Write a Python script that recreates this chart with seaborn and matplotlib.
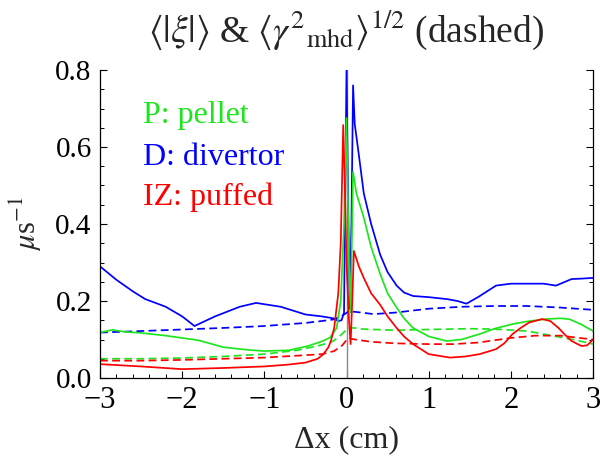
import numpy as np
import pandas as pd
import matplotlib
matplotlib.use("Agg")
import matplotlib.pyplot as plt
import seaborn as sns
from matplotlib.ticker import MultipleLocator

# ---------------- data ----------------
blue_x = [-3, -2.8, -2.6, -2.45, -2.2, -2.0, -1.85, -1.6, -1.3, -1.1, -0.8, -0.5, -0.3,
          -0.16, -0.1, -0.06, -0.03, 0.0, 0.02, 0.04, 0.06, 0.08, 0.1, 0.15, 0.21, 0.3,
          0.41, 0.5, 0.61, 0.7, 0.81, 1.0, 1.22, 1.35, 1.46, 1.6, 1.82, 2.0, 2.22, 2.4,
          2.55, 2.74, 2.85, 3.0]
blue_y = [0.29, 0.255, 0.225, 0.205, 0.185, 0.16, 0.135, 0.16, 0.185, 0.195, 0.185,
          0.165, 0.16, 0.155, 0.148, 0.15, 0.17, 0.80, 0.45, 0.18, 0.40, 0.76, 0.66,
          0.58, 0.48, 0.40, 0.32, 0.275, 0.24, 0.222, 0.213, 0.21, 0.205, 0.20, 0.193,
          0.21, 0.24, 0.245, 0.245, 0.245, 0.24, 0.257, 0.258, 0.26]

green_x = [-3, -2.85, -2.7, -2.5, -2.2, -2.0, -1.8, -1.5, -1.2, -1.0, -0.7, -0.47, -0.3,
           -0.2, -0.12, -0.07, -0.03, 0.0, 0.03, 0.05, 0.08, 0.12, 0.21, 0.3, 0.41, 0.5,
           0.61, 0.7, 0.81, 1.0, 1.22, 1.4, 1.62, 1.8, 2.02, 2.2, 2.42, 2.6, 2.71, 2.85, 3.0]
green_y = [0.118, 0.125, 0.12, 0.117, 0.11, 0.104, 0.098, 0.08, 0.073, 0.07, 0.072,
           0.083, 0.095, 0.105, 0.13, 0.2, 0.4, 0.675, 0.3, 0.17, 0.535, 0.48, 0.417,
           0.34, 0.27, 0.22, 0.183, 0.155, 0.13, 0.108, 0.096, 0.1, 0.114, 0.128, 0.14,
           0.147, 0.153, 0.155, 0.153, 0.14, 0.122]

red_x = [-3, -2.5, -2.0, -1.5, -1.0, -0.7, -0.5, -0.35, -0.28, -0.22, -0.19, -0.15, -0.1,
         -0.07, -0.04, -0.02, 0.0, 0.03, 0.05, 0.07, 0.09, 0.15, 0.21, 0.3, 0.41, 0.5,
         0.61, 0.7, 0.81, 1.0, 1.26, 1.45, 1.62, 1.82, 1.92, 2.02, 2.12, 2.22, 2.38,
         2.48, 2.58, 2.66, 2.74, 2.86, 2.93, 3.0]
red_y = [0.036, 0.03, 0.023, 0.026, 0.03, 0.035, 0.04, 0.05, 0.062, 0.08, 0.096, 0.13,
         0.22, 0.35, 0.657, 0.5, 0.3, 0.15, 0.088, 0.2, 0.33, 0.29, 0.26, 0.22, 0.19,
         0.16, 0.13, 0.108, 0.088, 0.062, 0.053, 0.056, 0.062, 0.075, 0.09, 0.114,
         0.13, 0.144, 0.153, 0.148, 0.13, 0.112, 0.096, 0.083, 0.085, 0.1]

blue_dash_x = [-3, -2.5, -2, -1.5, -1, -0.5, -0.3, -0.16, -0.05, 0.02, 0.1, 0.33, 0.6,
               1.0, 1.4, 1.8, 2.2, 2.6, 3.0]
blue_dash_y = [0.118, 0.122, 0.126, 0.13, 0.135, 0.143, 0.148, 0.152, 0.162, 0.172,
               0.172, 0.166, 0.17, 0.18, 0.185, 0.187, 0.187, 0.183, 0.177]

green_dash_x = [-3, -2.5, -2, -1.5, -1, -0.6, -0.3, -0.16, -0.05, 0.02, 0.1, 0.2, 0.6,
                1.0, 1.5, 1.8, 2.2, 2.5, 2.8, 3.0]
green_dash_y = [0.05, 0.05, 0.052, 0.056, 0.062, 0.072, 0.086, 0.096, 0.115, 0.13,
                0.13, 0.127, 0.124, 0.126, 0.128, 0.127, 0.122, 0.11, 0.098, 0.088]

red_dash_x = [-3, -2.5, -2, -1.5, -1, -0.6, -0.3, -0.15, -0.05, 0.02, 0.1, 0.3, 0.6,
              1.0, 1.3, 1.6, 2.0, 2.3, 2.6, 2.8, 3.0]
red_dash_y = [0.045, 0.045, 0.047, 0.05, 0.053, 0.058, 0.062, 0.07, 0.085, 0.104, 0.1,
              0.094, 0.09, 0.088, 0.088, 0.092, 0.104, 0.11, 0.11, 0.105, 0.1]

labels = ["P: pellet", "D: divertor", "IZ: puffed"]
x_ticks = [-3, -2, -1, 0, 1, 2, 3]
y_ticks = [0.0, 0.2, 0.4, 0.6, 0.8]

GREEN = "#1ee61e"
BLUE = "#0000ff"
RED = "#ff0000"

# ---------------- style ----------------
sns.set_theme(style="ticks")
plt.rcParams["font.family"] = ["Liberation Serif", "DejaVu Serif"]
plt.rcParams["mathtext.fontset"] = "stix"

fig = plt.figure(figsize=(6.0, 4.61), dpi=100)
L, R, T, B = 100, 593, 70, 378
ax = fig.add_axes([L / 600, 1 - B / 461, (R - L) / 600, (B - T) / 461])

lw = 1.25
dash = (0, (4.5, 2.5))
ax.axvline(0, color="#8a8a8a", lw=1.0, zorder=1)

for xs, ys, c in [(blue_dash_x, blue_dash_y, BLUE),
                  (green_dash_x, green_dash_y, GREEN),
                  (red_dash_x, red_dash_y, RED)]:
    sns.lineplot(x=xs, y=ys, ax=ax, color=c, lw=lw, linestyle=dash,
                 sort=False, estimator=None)

for xs, ys, c in [(blue_x, blue_y, BLUE),
                  (green_x, green_y, GREEN),
                  (red_x, red_y, RED)]:
    sns.lineplot(x=xs, y=ys, ax=ax, color=c, lw=lw, sort=False, estimator=None)

ax.set_xlim(-3, 3)
ax.set_ylim(0, 0.8)
ax.set_xticks(x_ticks)
ax.set_xticklabels([f"\u2212{abs(t)}" if t < 0 else str(t) for t in x_ticks])
ax.set_yticks(y_ticks)
ax.set_yticklabels([f"{t:.1f}" for t in y_ticks])
ax.xaxis.set_minor_locator(MultipleLocator(0.2))
ax.yaxis.set_minor_locator(MultipleLocator(0.05))

ax.spines["top"].set_visible(False)
for s in ["left", "right", "bottom"]:
    ax.spines[s].set_color("black")
    ax.spines[s].set_linewidth(0.9)

ax.tick_params(which="both", direction="in", right=True, top=False,
               colors="black")
ax.tick_params(axis="x", labelsize=22, pad=6)
ax.tick_params(axis="y", labelsize=21, pad=6)
ax.tick_params(which="major", length=5, width=0.8)
ax.tick_params(which="minor", length=2.8, width=0.7)

ax.set_xlabel("\u0394x (cm)", fontsize=23, labelpad=7)
ax.set_ylabel(r"$\mu$s$^{-1}$", fontsize=22, labelpad=8)

fig.text((L + R) / 2 / 600, 0.935,
         r"$\langle|\xi|\rangle$ & $\langle{\gamma^2}_{\mathrm{mhd}}\rangle^{1/2}$ (dashed)",
         ha="center", va="center", fontsize=27)

for lab, c, yb in zip(labels, [GREEN, BLUE, RED], [0.828, 0.692, 0.562]):
    ax.text(43 / (R - L), yb, lab, color=c, fontsize=23, transform=ax.transAxes,
            ha="left", va="baseline")

fig.savefig("out.png", dpi=100)
